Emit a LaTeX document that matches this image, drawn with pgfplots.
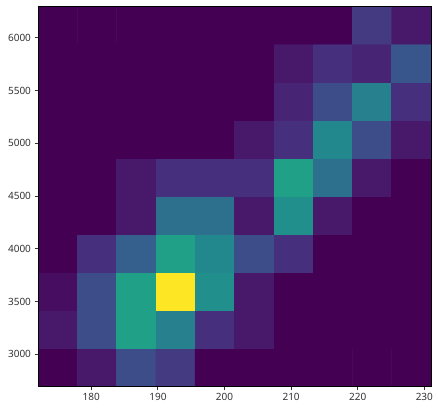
\documentclass[border=0pt]{standalone}
\usepackage{fontspec}
\setmainfont{Noto Sans}
\usepackage{pgfplots}
\pgfplotsset{compat=1.18}
\definecolor{tickgray}{HTML}{333333}
\begin{document}
\begin{tikzpicture}
\useasboundingbox (-38pt,-24pt) rectangle (400pt,386pt);
\begin{axis}[
  at={(0,0)}, anchor=south west,
  scale only axis, width=393pt, height=380pt,
  xmin=172, xmax=231, ymin=2700, ymax=6300,
  xtick={180,190,200,210,220,230},
  ytick={3000,3500,4000,4500,5000,5500,6000},
  tick align=outside, tick pos=left,
  major tick length=3.5pt,
  every tick/.style={tickgray, line width=0.8pt},
  axis line style={black, line width=0.8pt},
  tick label style={font=\fontsize{10}{12}\selectfont, text=tickgray},
  /pgf/number format/assume math mode=true,
  /pgf/number format/1000 sep={},
  colormap/viridis,
  point meta min=0, point meta max=30,
  axis on top,
  clip=true,
]
\addplot[matrix plot*, mesh/cols=10, point meta=explicit,
  shader=faceted, faceted color=mapped color, line width=0.6pt] table[meta=c] {
x y c
174.95 2880 0
180.85 2880 2
186.75 2880 7
192.65 2880 5
198.55 2880 0
204.45 2880 0
210.35 2880 0
216.25 2880 0
222.15 2880 0
228.05 2880 0
174.95 3240 2
180.85 3240 7
186.75 3240 17
192.65 3240 13
198.55 3240 4
204.45 3240 2
210.35 3240 0
216.25 3240 0
222.15 3240 0
228.05 3240 0
174.95 3600 1
180.85 3600 7
186.75 3600 17
192.65 3600 30
198.55 3600 15
204.45 3600 2
210.35 3600 0
216.25 3600 0
222.15 3600 0
228.05 3600 0
174.95 3960 0
180.85 3960 4
186.75 3960 9
192.65 3960 17
198.55 3960 14
204.45 3960 7
210.35 3960 4
216.25 3960 0
222.15 3960 0
228.05 3960 0
174.95 4320 0
180.85 4320 0
186.75 4320 2
192.65 4320 11
198.55 4320 11
204.45 4320 2
210.35 4320 15
216.25 4320 2
222.15 4320 0
228.05 4320 0
174.95 4680 0
180.85 4680 0
186.75 4680 2
192.65 4680 4
198.55 4680 4
204.45 4680 4
210.35 4680 17
216.25 4680 11
222.15 4680 2
228.05 4680 0
174.95 5040 0
180.85 5040 0
186.75 5040 0
192.65 5040 0
198.55 5040 0
204.45 5040 2
210.35 5040 4
216.25 5040 14
222.15 5040 7
228.05 5040 2
174.95 5400 0
180.85 5400 0
186.75 5400 0
192.65 5400 0
198.55 5400 0
204.45 5400 0
210.35 5400 3
216.25 5400 7
222.15 5400 13
228.05 5400 4
174.95 5760 0
180.85 5760 0
186.75 5760 0
192.65 5760 0
198.55 5760 0
204.45 5760 0
210.35 5760 2
216.25 5760 4
222.15 5760 3
228.05 5760 8
174.95 6120 0
180.85 6120 0
186.75 6120 0
192.65 6120 0
198.55 6120 0
204.45 6120 0
210.35 6120 0
216.25 6120 0
222.15 6120 5
228.05 6120 2
};
\end{axis}
\end{tikzpicture}
\end{document}
